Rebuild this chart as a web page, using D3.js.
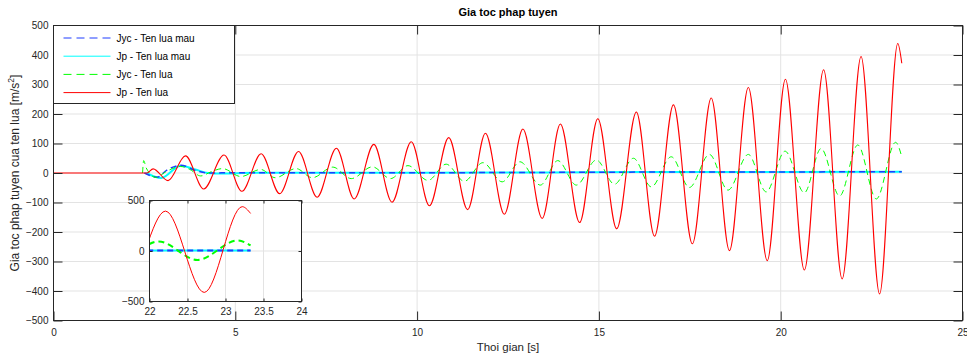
<!DOCTYPE html>
<html>
<head>
<meta charset="utf-8">
<script src="https://cdn.jsdelivr.net/npm/d3@7"></script>
<style>
  html, body { margin: 0; padding: 0; background: #fff; }
  svg { display: block; font-family: "Liberation Sans", Arial, sans-serif; }
</style>
</head>
<body>
<div id="chart"></div>
<script>
// ---- data ----
const xTicks = [0, 5, 10, 15, 20, 25];
const yTicks = [-500, -400, -300, -200, -100, 0, 100, 200, 300, 400, 500];
const insetXTicks = [22, 22.5, 23, 23.5, 24];
const insetYTicks = [-500, 0, 500];

// Jp - Ten lua (red)
const jpT = [0, 2.5, 2.57, 2.74, 3.15, 3.63, 4.13, 4.69, 5.18, 5.71, 6.22, 6.74, 7.25, 7.78, 8.27, 8.81, 9.31, 9.84,
  10.34, 10.87, 11.39, 11.88, 12.40, 12.91, 13.44, 13.94, 14.47, 14.97, 15.49, 16.03, 16.53, 17.05, 17.57, 18.09,
  18.59, 19.11, 19.63, 20.13, 20.65, 21.18, 21.69, 22.21, 22.72, 23.22, 23.33];
const jpV = [0, 0, 0, 14, -26, 58, -54, 61, -62, 65, -70, 73, -82, 84, -88, 97, -99, 106,
  -111, 120, -124, 135, -140, 149, -154, 166, -168, 184, -189, 207, -214, 231, -240, 254,
  -263, 290, -297, 318, -329, 350, -359, 395, -410, 439, 372];

// Jyc - Ten lua (green dashed)
const jycT = [2.45, 2.48, 2.55, 2.82, 3.1, 3.5, 3.75, 4.05, 4.35, 4.65, 5.15, 5.7, 6.1, 6.67, 7.12, 7.68, 8.19,
  8.77, 9.27, 9.75, 10.30, 10.80, 11.30, 11.81, 12.34, 12.83, 13.39, 13.87, 14.38, 14.93, 15.43, 15.95, 16.44,
  16.99, 17.49, 18.04, 18.55, 19.11, 19.60, 20.12, 20.65, 21.11, 21.62, 22.12, 22.63, 23.16, 23.33];
const jycV = [0, 42, 17, -15, 5, 22, 12, -10, 5, 15, -12, 12, -16, 15, -16, 20, -19,
  21, -19, 25, -25, 30, -28, 35, -30, 38, -41, 42, -41, 44, -38, 50, -47,
  55, -49, 63, -58, 63, -64, 74, -67, 83, -78, 95, -88, 104, 55];

// Jp - Ten lua mau (cyan)
const jpMauT = [2.55, 2.96, 3.5, 3.9, 4.25, 4.6, 5.5, 10, 16, 23.33];
const jpMauV = [0, -17, 25, 12, 0, -2, 1, 1, 3, 4];

// Jyc - Ten lua mau (blue dashed)
const jycMauT = [2.5, 2.85, 3.12, 3.5, 3.92, 4.25, 5.0, 10, 16, 23.33];
const jycMauV = [0, -14, 10, 26, 8, 0, 1, 1, 3, 4];

const seriesNames = ["Jyc - Ten lua mau", "Jp - Ten lua mau", "Jyc - Ten lua", "Jp - Ten lua"];

// ---- layout ----
const W = 967, H = 356;
const axisColor = "#262626", gridColor = "#e3e3e3";

const zip = (t, v) => t.map((d, i) => ({ t: d, v: v[i] }));
const series = [
  { name: seriesNames[0], data: zip(jycMauT, jycMauV), color: "#1f3cff", dash: "6,4", width: 1.5, z: 1 },
  { name: seriesNames[1], data: zip(jpMauT, jpMauV), color: "#00ffff", dash: null, width: 2, z: 0 },
  { name: seriesNames[2], data: zip(jycT, jycV), color: "#00ff00", dash: "6,4", width: 1, z: 2 },
  { name: seriesNames[3], data: zip(jpT, jpV), color: "#ff0000", dash: null, width: 1.1, z: 3 }
];
// blue dashes sit on top of the cyan line in the source
const drawOrder = series.slice().sort((a, b) => a.z - b.z);

const svg = d3.select("#chart").append("svg")
  .attr("width", W).attr("height", H);

// main scales
const x = d3.scaleLinear().domain([0, 25]).range([53.5, 962.5]);
const y = d3.scaleLinear().domain([-500, 500]).range([320.5, 25.5]);

// Create main group
const g = svg.append("g");

// grid
g.append("g").selectAll("line").data(xTicks.slice(1, -1)).join("line")
  .attr("x1", d => x(d)).attr("x2", d => x(d))
  .attr("y1", y(-500)).attr("y2", y(500))
  .attr("stroke", gridColor);
g.append("g").selectAll("line").data(yTicks.slice(1, -1)).join("line")
  .attr("x1", x(0)).attr("x2", x(25))
  .attr("y1", d => y(d)).attr("y2", d => y(d))
  .attr("stroke", gridColor);

// lines
const line = d3.line()
  .x(d => x(d.t)).y(d => y(d.v))
  .curve(d3.curveMonotoneX);

g.append("g").selectAll("path").data(drawOrder).join("path")
  .attr("fill", "none")
  .attr("stroke", d => d.color)
  .attr("stroke-width", d => d.width)
  .attr("stroke-dasharray", d => d.dash)
  .attr("d", d => line(d.data));

// axes (ticks point inward, like the source)
function styleAxis(sel) {
  sel.select(".domain").remove();
  sel.selectAll(".tick line").attr("stroke", axisColor);
  sel.selectAll(".tick text").attr("fill", axisColor).attr("font-size", 10);
}

g.append("g").attr("transform", `translate(0,${y(-500)})`)
  .call(d3.axisBottom(x).tickValues(xTicks).tickSizeInner(-9).tickSizeOuter(0).tickPadding(8))
  .call(styleAxis);
g.append("g").attr("transform", `translate(0,${y(500)})`)
  .call(d3.axisTop(x).tickValues(xTicks).tickSizeInner(-9).tickSizeOuter(0).tickFormat(""))
  .call(styleAxis);
g.append("g").attr("transform", `translate(${x(0)},0)`)
  .call(d3.axisLeft(y).tickValues(yTicks).tickSizeInner(-9).tickSizeOuter(0).tickPadding(5))
  .call(styleAxis);
g.append("g").attr("transform", `translate(${x(25)},0)`)
  .call(d3.axisRight(y).tickValues(yTicks).tickSizeInner(-9).tickSizeOuter(0).tickFormat(""))
  .call(styleAxis);

g.append("rect")
  .attr("x", x(0)).attr("y", y(500))
  .attr("width", x(25) - x(0)).attr("height", y(-500) - y(500))
  .attr("fill", "none").attr("stroke", axisColor);

// title and labels
svg.append("text")
  .attr("x", (x(0) + x(25)) / 2).attr("y", 16)
  .attr("text-anchor", "middle")
  .attr("font-size", 11).attr("font-weight", "bold")
  .attr("fill", "#000")
  .text("Gia toc phap tuyen");

svg.append("text")
  .attr("x", (x(0) + x(25)) / 2).attr("y", 351)
  .attr("text-anchor", "middle")
  .attr("font-size", 11.5).attr("fill", axisColor)
  .text("Thoi gian [s]");

const yl = svg.append("text")
  .attr("transform", `translate(19,${(y(500) + y(-500)) / 2}) rotate(-90)`)
  .attr("text-anchor", "middle")
  .attr("font-size", 12).attr("fill", axisColor);
yl.append("tspan").text("Gia toc phap tuyen cua ten lua [m/s");
yl.append("tspan").attr("font-size", 8.5).attr("dy", -5).text("2");
yl.append("tspan").attr("dy", 5).text("]");

// legend
const legend = svg.append("g").attr("transform", `translate(${x(0)},${y(500)})`);
legend.append("rect")
  .attr("width", 181).attr("height", 78)
  .attr("fill", "#fff").attr("stroke", axisColor);
const legendRows = legend.selectAll("g").data(series).join("g")
  .attr("transform", (d, i) => `translate(0,${12.5 + i * 18.2})`);
legendRows.append("line")
  .attr("x1", 10).attr("x2", 57)
  .attr("stroke", d => d.color)
  .attr("stroke-width", 1)
  .attr("stroke-dasharray", d => d.dash ? "8,5" : null);
legendRows.append("text")
  .attr("x", 63).attr("dy", "0.35em")
  .attr("font-size", 10).attr("fill", "#000")
  .text(d => d.name);

// inset zoom on the last seconds
const xi = d3.scaleLinear().domain([22, 24]).range([149.5, 301.5]);
const yi = d3.scaleLinear().domain([-500, 500]).range([301.5, 200.5]);

const inset = svg.append("g");
inset.append("rect")
  .attr("x", xi(22)).attr("y", yi(500))
  .attr("width", xi(24) - xi(22)).attr("height", yi(-500) - yi(500))
  .attr("fill", "#fff");

svg.append("clipPath").attr("id", "insetClip")
  .append("rect")
  .attr("x", xi(22)).attr("y", yi(500))
  .attr("width", xi(24) - xi(22)).attr("height", yi(-500) - yi(500));

inset.append("g").selectAll("line").data(insetXTicks.slice(1, -1)).join("line")
  .attr("x1", d => xi(d)).attr("x2", d => xi(d))
  .attr("y1", yi(-500)).attr("y2", yi(500))
  .attr("stroke", gridColor);
inset.append("g").selectAll("line").data([0]).join("line")
  .attr("x1", xi(22)).attr("x2", xi(24))
  .attr("y1", d => yi(d)).attr("y2", d => yi(d))
  .attr("stroke", gridColor);

const lineInset = d3.line()
  .x(d => xi(d.t)).y(d => yi(d.v))
  .curve(d3.curveMonotoneX);

inset.append("g").attr("clip-path", "url(#insetClip)")
  .selectAll("path").data(drawOrder).join("path")
  .attr("fill", "none")
  .attr("stroke", d => d.color)
  .attr("stroke-width", d => d.color === "#ff0000" ? 1 : 2)
  .attr("stroke-dasharray", d => d.dash)
  .attr("d", d => lineInset(d.data));

inset.append("g").attr("transform", `translate(0,${yi(-500)})`)
  .call(d3.axisBottom(xi).tickValues(insetXTicks).tickFormat(d3.format("")).tickSizeInner(-3).tickSizeOuter(0).tickPadding(6))
  .call(styleAxis);
inset.append("g").attr("transform", `translate(0,${yi(500)})`)
  .call(d3.axisTop(xi).tickValues(insetXTicks).tickSizeInner(-3).tickSizeOuter(0).tickFormat(""))
  .call(styleAxis);
inset.append("g").attr("transform", `translate(${xi(22)},0)`)
  .call(d3.axisLeft(yi).tickValues(insetYTicks).tickSizeInner(-3).tickSizeOuter(0).tickPadding(5))
  .call(styleAxis);
inset.append("g").attr("transform", `translate(${xi(24)},0)`)
  .call(d3.axisRight(yi).tickValues(insetYTicks).tickSizeInner(-3).tickSizeOuter(0).tickFormat(""))
  .call(styleAxis);

inset.append("rect")
  .attr("x", xi(22)).attr("y", yi(500))
  .attr("width", xi(24) - xi(22)).attr("height", yi(-500) - yi(500))
  .attr("fill", "none").attr("stroke", axisColor);
</script>
</body>
</html>
